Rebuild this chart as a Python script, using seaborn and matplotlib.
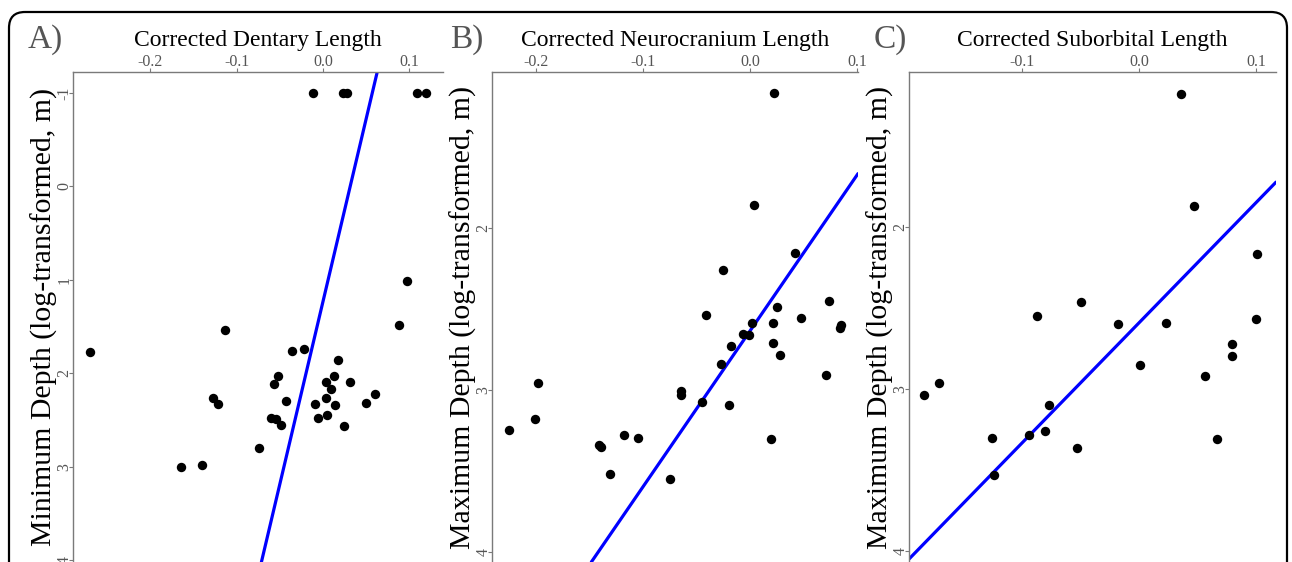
import numpy as np
import pandas as pd
import matplotlib
matplotlib.use("Agg")
import matplotlib.pyplot as plt
import seaborn as sns
from matplotlib.patches import FancyBboxPatch

# ---------------- data ----------------
A_x = [-0.012, 0.023, 0.028, 0.109, 0.119, 0.097, 0.088, -0.114, -0.270, -0.036,
       -0.022, -0.052, -0.057, -0.127, -0.122, -0.043, -0.060, -0.054, -0.049, -0.074,
       -0.164, -0.140, 0.017, 0.013, 0.004, 0.009, 0.031, 0.0035, -0.0096, 0.0143,
       -0.006, 0.0042, 0.024, 0.050, 0.060]
A_y = [-1, -1, -1, -1, -1, 1.01, 1.48, 1.54, 1.77, 1.76,
       1.74, 2.03, 2.12, 2.27, 2.33, 2.30, 2.48, 2.49, 2.55, 2.80,
       3.00, 2.98, 1.86, 2.03, 2.09, 2.17, 2.09, 2.26, 2.33, 2.34,
       2.48, 2.45, 2.56, 2.32, 2.22]

B_x = [0.0224, 0.0037, 0.0417, -0.0252, -0.0414, 0.0738, 0.0252, 0.0218, 0.0474, 0.085,
       0.084, 0.0019, -0.0065, -0.0012, -0.0178, 0.0218, 0.0277, -0.0274, 0.0713, -0.198,
       -0.064, -0.0645, -0.0449, -0.0196, -0.201, -0.2255, -0.118, -0.105, -0.141, -0.139,
       0.0196, -0.131, -0.0748]
B_y = [1.167, 1.858, 2.156, 2.26, 2.535, 2.45, 2.49, 2.585, 2.557, 2.597,
       2.62, 2.586, 2.656, 2.66, 2.727, 2.71, 2.786, 2.84, 2.91, 2.955,
       3.008, 3.03, 3.076, 3.09, 3.18, 3.25, 3.276, 3.294, 3.34, 3.35,
       3.30, 3.52, 3.55]

C_x = [0.0359, 0.047, 0.101, -0.0493, -0.0875, -0.0182, 0.0228, 0.0997, 0.0792, 0.0798,
       0.0011, 0.0561, -0.171, -0.1835, -0.0769, -0.1259, -0.094, -0.0803, -0.0533, 0.0664,
       -0.124]
C_y = [1.181, 1.869, 2.165, 2.461, 2.547, 2.597, 2.595, 2.568, 2.722, 2.796,
       2.852, 2.92, 2.965, 3.037, 3.10, 3.30, 3.286, 3.26, 3.362, 3.309,
       3.533]

# fitted lines (intercept, slope)
fit_intercepts = [1.23, 2.636, 2.591]
fit_slopes = [-39.1, -9.62, -7.42]

panel_letters = ["A)", "B)", "C)"]
x_titles = ["Corrected Dentary Length", "Corrected Neurocranium Length", "Corrected Suborbital Length"]
y_titles = ["Minimum Depth (log-transformed, m)", "Maximum Depth (log-transformed, m)",
            "Maximum Depth (log-transformed, m)"]
x_ticks = [[-0.2, -0.1, 0.0, 0.1], [-0.2, -0.1, 0.0, 0.1], [-0.1, 0.0, 0.1]]
y_ticks = [[-1, 0, 1, 2, 3, 4], [2, 3, 4], [2, 3, 4]]

# ---------------- style ----------------
sns.set_theme(style="white")
plt.rcParams['font.family'] = ['Liberation Serif', 'DejaVu Serif']
plt.rcParams['axes.unicode_minus'] = False

W, H = 1292, 562
fig = plt.figure(figsize=(W / 100, H / 100), dpi=100)

# background frame (pixel coordinates)
bg = fig.add_axes([0, 0, 1, 1])
bg.set_xlim(0, W)
bg.set_ylim(H, 0)
bg.axis("off")
bg.add_patch(FancyBboxPatch((9, 12), 1278, 640, boxstyle="round,pad=0,rounding_size=16",
                            fill=False, edgecolor="black", linewidth=1.6))

# axes layout in pixels: left, right, top
layout = [(73, 443, 72), (492, 858, 72), (909, 1276, 72)]
xlims = [(-0.2897, 0.139), (-0.2411, 0.101), (-0.1966, 0.117)]
ylims = [(4.021, -1.225), (4.062, 1.037), (4.068, 1.043)]
letter_x = [45, 467, 890]

datasets = [(A_x, A_y), (B_x, B_y), (C_x, C_y)]
spine_col = "#7a7a7a"
tick_col = "#555555"

for i, ((xs, ys), (l, r, t)) in enumerate(zip(datasets, layout)):
    ax = fig.add_axes([l / W, 0, (r - l) / W, (H - t) / H])
    ax.patch.set_alpha(0)
    df = pd.DataFrame({"x": xs, "y": ys})
    sns.scatterplot(data=df, x="x", y="y", ax=ax, color="black", s=46,
                    edgecolor="black", linewidth=0, zorder=3, legend=False)
    ax.axline((0, fit_intercepts[i]), slope=fit_slopes[i], color="#0000ff", lw=2.3, zorder=2)
    ax.set_xlim(*xlims[i])
    ax.set_ylim(*ylims[i])
    ax.set_xticks(x_ticks[i])
    ax.set_xticklabels([f"{v:.1f}" for v in x_ticks[i]])
    ax.set_yticks(y_ticks[i])
    ax.set_yticklabels([str(v) for v in y_ticks[i]])
    ax.xaxis.tick_top()
    ax.xaxis.set_label_position("top")
    for side in ["right", "bottom"]:
        ax.spines[side].set_visible(False)
    for side in ["top", "left"]:
        ax.spines[side].set_color(spine_col)
        ax.spines[side].set_linewidth(1.0)
    ax.tick_params(axis="x", which="both", top=True, bottom=False, length=3, width=0.8,
                   color=spine_col, labelcolor=tick_col, labelsize=11.5, pad=-1.5)
    ax.tick_params(axis="y", which="both", left=True, length=3, width=0.8,
                   color=spine_col, labelcolor=tick_col, labelsize=11.5, pad=-2.5,
                   labelrotation=90)
    for lab in ax.get_yticklabels():
        lab.set_verticalalignment("center")
    ax.set_xlabel(x_titles[i], fontsize=17, color="black", labelpad=6)
    ax.set_ylabel(y_titles[i], fontsize=21.5, color="black", labelpad=-1)
    ax.grid(False)
    fig.text(letter_x[i] / W, 1 - 40 / H, panel_letters[i], fontsize=24, color="#555555",
             ha="center", va="center")

fig.savefig("out.png", dpi=100)
